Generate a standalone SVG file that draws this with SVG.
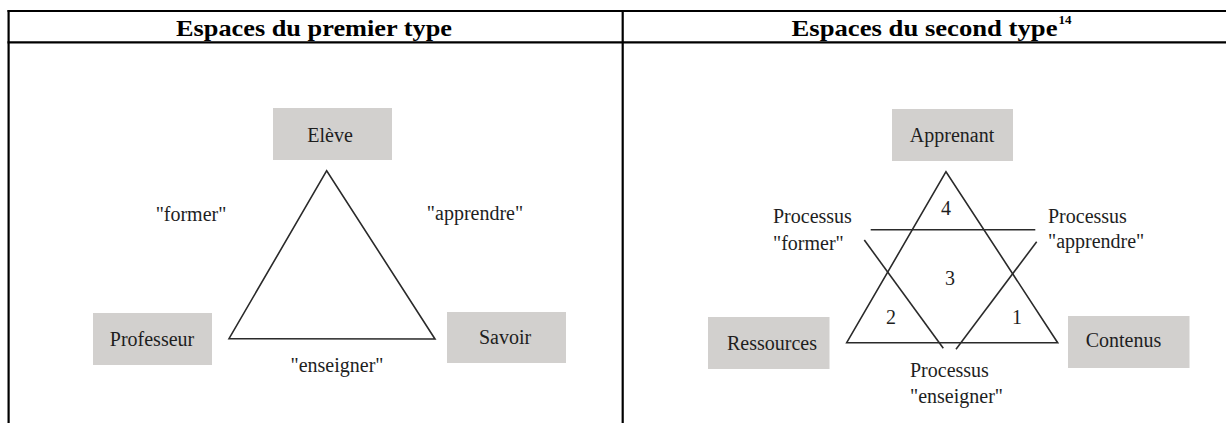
<svg xmlns="http://www.w3.org/2000/svg" width="1226" height="423" viewBox="0 0 1226 423">
<style>
.tbl{stroke:#000;stroke-width:2.2;fill:none}
.hd{font-family:"Liberation Serif","Times New Roman",serif;font-weight:bold;font-size:24px;fill:#000}
.box{fill:#d2d0ce}
.t{font-family:"Liberation Serif","Times New Roman",serif;font-size:20px;fill:#1e1e1e}
.c{text-anchor:middle}
.ln{stroke:#2a2a2a;stroke-width:1.6;fill:none;stroke-linejoin:miter}
</style>
<rect width="1226" height="423" fill="#fff"/>
<g id="table">
<line class="tbl" x1="7.5" y1="11" x2="1226" y2="11"/>
<line class="tbl" x1="7.5" y1="42.3" x2="1226" y2="42.3"/>
<line class="tbl" x1="8.6" y1="10" x2="8.6" y2="423"/>
<line class="tbl" x1="622.7" y1="10" x2="622.7" y2="423"/>
<text class="hd c" x="314" y="35.5" textLength="276" lengthAdjust="spacingAndGlyphs">Espaces du premier type</text>
<text class="hd" x="791.5" y="35.5" textLength="266" lengthAdjust="spacingAndGlyphs">Espaces du second type</text>
<text class="hd" x="1058.5" y="24" style="font-size:13px">14</text>
</g>
<g id="connectors">
<polygon class="ln" points="326.7,170.7 229,338.7 435,339"/>
<polygon class="ln" points="946,171.7 846.7,342.7 1057.7,342.7"/>
<line class="ln" x1="870.7" y1="229.7" x2="1035.3" y2="229.7"/>
<line class="ln" x1="864.3" y1="240" x2="943.3" y2="348.3"/>
<line class="ln" x1="1036.7" y1="241.7" x2="956" y2="349.3"/>
</g>
<g id="eleve"><rect class="box" x="273" y="108" width="119" height="52"/><text class="t c" x="330" y="142">Elève</text></g>
<g id="professeur"><rect class="box" x="93" y="313" width="119" height="52"/><text class="t c" x="152" y="346">Professeur</text></g>
<g id="savoir"><rect class="box" x="447" y="312" width="119" height="51"/><text class="t c" x="505" y="344">Savoir</text></g>
<g id="label-former"><text class="t c" x="191" y="221">"former"</text></g>
<g id="label-apprendre"><text class="t c" x="475" y="220">"apprendre"</text></g>
<g id="label-enseigner"><text class="t c" x="337" y="372">"enseigner"</text></g>
<g id="apprenant"><rect class="box" x="892" y="109" width="121" height="52"/><text class="t c" x="952" y="142">Apprenant</text></g>
<g id="ressources"><rect class="box" x="708" y="317" width="121.5" height="52"/><text class="t c" x="772" y="350">Ressources</text></g>
<g id="contenus"><rect class="box" x="1068" y="316" width="121.5" height="52"/><text class="t c" x="1123.5" y="347">Contenus</text></g>
<g id="zones">
<text class="t c" x="946" y="215">4</text>
<text class="t c" x="950" y="285">3</text>
<text class="t c" x="891" y="324">2</text>
<text class="t c" x="1017" y="324">1</text>
</g>
<g id="processus-former"><text class="t" x="773" y="223">Processus</text><text class="t" x="773" y="250">"former"</text></g>
<g id="processus-apprendre"><text class="t" x="1048" y="223">Processus</text><text class="t" x="1048" y="248">"apprendre"</text></g>
<g id="processus-enseigner"><text class="t" x="910" y="377">Processus</text><text class="t" x="910" y="403">"enseigner"</text></g>
</svg>
